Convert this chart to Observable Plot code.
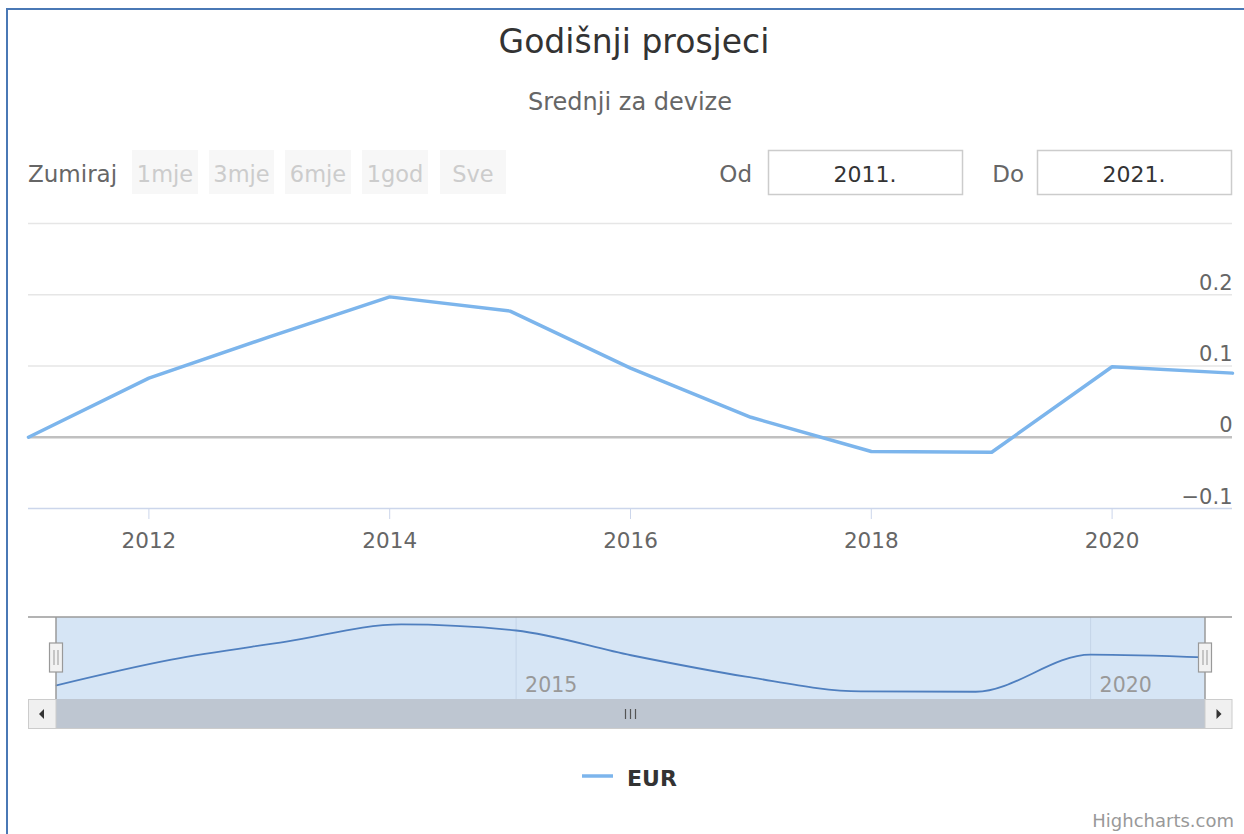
<!DOCTYPE html>
<html>
<head>
<meta charset="utf-8">
<script src="https://cdn.jsdelivr.net/npm/d3@7"></script>
<script src="https://cdn.jsdelivr.net/npm/@observablehq/plot@0.6"></script>
<style>
  body { margin: 0; background: #fff; }
  #wrap { position: relative; width: 1244px; height: 834px; overflow: hidden; background: #fff; font-family: "DejaVu Sans", sans-serif; }
  #frame { position: absolute; left: 6px; top: 8px; width: 1400px; height: 900px; border-left: 2px solid #4a78b5; border-top: 2px solid #4a78b5; }
  #main { position: absolute; left: 0; top: 200px; }
  #nav { position: absolute; left: 0; top: 600px; }
  #chrome { position: absolute; left: 0; top: 0; pointer-events: none; }
</style>
</head>
<body>
<div id="wrap">
  <div id="frame"></div>
  <div id="main"></div>
  <div id="nav"></div>
  <svg id="chrome" width="1244" height="834"></svg>
</div>
<script>
// ---- data ----
const years = [2011, 2012, 2013, 2014, 2015, 2016, 2017, 2018, 2019, 2020, 2021];
const eur = [0.000, 0.083, 0.141, 0.197, 0.177, 0.097, 0.028, -0.020, -0.021, 0.099, 0.090];
const xTicks = [2012, 2014, 2016, 2018, 2020];
const yLabels = [-0.1, 0, 0.1, 0.2];
const yGrid = [0.1, 0.2, 0.3];
const navTicks = [2015, 2020];
const rangeButtons = ["1mje", "3mje", "6mje", "1god", "Sve"];
const seriesName = "EUR";
const titleText = "Godišnji prosjeci";
const subtitleText = "Srednji za devize";
const zoomLabel = "Zumiraj";
const fromLabel = "Od", toLabel = "Do";
const fromValue = "2011.", toValue = "2021.";
const creditsText = "Highcharts.com";

const data = years.map((year, i) => ({year, value: eur[i]}));
const yFmt = d3.format("");
const FONT = "DejaVu Sans";

// ---- main chart ----
const main = Plot.plot({
  width: 1244, height: 360,
  marginLeft: 28, marginRight: 12, marginTop: 23, marginBottom: 52,
  x: {domain: [years[0], years[years.length - 1]], axis: null},
  y: {domain: [-0.1, 0.3], axis: null},
  style: {fontFamily: FONT, fontSize: "21px", background: "transparent", overflow: "visible"},
  marks: [
    Plot.ruleY(yGrid, {stroke: "#e6e6e6", strokeWidth: 1.5}),
    Plot.ruleY([0], {stroke: "#c0c0c0", strokeWidth: 2.5}),
    Plot.ruleY([-0.1], {stroke: "#ccd6eb", strokeWidth: 1.5}),
    Plot.axisX(xTicks, {tickSize: 11, tickPadding: 13, stroke: "#ccd6eb", fill: "#666", tickFormat: d => String(d), fontSize: 21.5, label: null}),
    Plot.text(yLabels, {frameAnchor: "right", y: d => d, text: d => yFmt(d), textAnchor: "end", lineAnchor: "bottom", dy: -5, fill: "#666", fontSize: 21}),
    Plot.line(data, {x: "year", y: "value", stroke: "#7cb5ec", strokeWidth: 3.5, strokeLinejoin: "round"})
  ]
});
document.getElementById("main").appendChild(main);

// ---- navigator ----
const nav = Plot.plot({
  width: 1244, height: 140,
  marginLeft: 56, marginRight: 39, marginTop: 17, marginBottom: 41,
  x: {domain: [years[0], years[years.length - 1]], axis: null},
  y: {domain: [-0.046, 0.219], axis: null},
  style: {fontFamily: FONT, fontSize: "20px", background: "transparent", overflow: "visible"},
  marks: [
    Plot.rect([{x1: years[0], x2: years[years.length - 1]}], {x1: "x1", x2: "x2", fill: "#d6e5f5"}),
    Plot.ruleX(navTicks, {stroke: "#c5d4e8", strokeWidth: 1}),
    Plot.text(navTicks, {x: d => d, text: d => String(d), frameAnchor: "bottom", textAnchor: "start", lineAnchor: "bottom", dx: 9, dy: -8, fill: "#999", fontSize: 20.5}),
    Plot.line(data, {x: "year", y: "value", curve: "monotone-x", stroke: "#4f7fbf", strokeWidth: 1.8})
  ]
});
document.getElementById("nav").appendChild(nav);

// ---- chrome (title, range selector, navigator handles, scrollbar, legend, credits) ----
const svg = d3.select("#chrome");
const navX = nav.scale("x");
const navTop = 600 + 17, navBottom = 600 + 140 - 41;
const hx0 = navX.apply(years[0]), hx1 = navX.apply(years[years.length - 1]);

svg.append("text").attr("x", 634).attr("y", 53).attr("text-anchor", "middle")
  .attr("font-family", FONT).attr("font-size", 33).attr("fill", "#333").text(titleText);
svg.append("text").attr("x", 630).attr("y", 110).attr("text-anchor", "middle")
  .attr("font-family", FONT).attr("font-size", 24).attr("fill", "#666").text(subtitleText);

// range selector
svg.append("text").attr("x", 28).attr("y", 182).attr("font-family", FONT).attr("font-size", 23).attr("fill", "#666").text(zoomLabel);
const btnX = [132, 209, 285, 362, 440];
const btnW = [66, 65, 66, 66, 66];
rangeButtons.forEach((b, i) => {
  svg.append("rect").attr("x", btnX[i]).attr("y", 150).attr("width", btnW[i]).attr("height", 44).attr("fill", "#f7f7f7");
  svg.append("text").attr("x", btnX[i] + btnW[i] / 2).attr("y", 182).attr("text-anchor", "middle")
    .attr("font-family", FONT).attr("font-size", 22.5).attr("fill", "#cccccc").text(b);
});
svg.append("text").attr("x", 752).attr("y", 182).attr("text-anchor", "end").attr("font-family", FONT).attr("font-size", 23).attr("fill", "#666").text(fromLabel);
svg.append("rect").attr("x", 768.5).attr("y", 150.5).attr("width", 194).attr("height", 44).attr("fill", "#fff").attr("stroke", "#cccccc").attr("stroke-width", 1.5);
svg.append("text").attr("x", 865).attr("y", 182).attr("text-anchor", "middle").attr("font-family", FONT).attr("font-size", 22).attr("fill", "#333").text(fromValue);
svg.append("text").attr("x", 1024).attr("y", 182).attr("text-anchor", "end").attr("font-family", FONT).attr("font-size", 23).attr("fill", "#666").text(toLabel);
svg.append("rect").attr("x", 1037.5).attr("y", 150.5).attr("width", 194).attr("height", 44).attr("fill", "#fff").attr("stroke", "#cccccc").attr("stroke-width", 1.5);
svg.append("text").attr("x", 1134).attr("y", 182).attr("text-anchor", "middle").attr("font-family", FONT).attr("font-size", 22).attr("fill", "#333").text(toValue);

// navigator outline
svg.append("path").attr("d", `M28,${navTop}H1232M${hx0},${navTop}V${navBottom}M${hx1},${navTop}V${navBottom}`)
  .attr("fill", "none").attr("stroke", "#9a9a9a").attr("stroke-width", 1.5);

// scrollbar
const sbTop = navBottom, sbH = 30;
svg.append("rect").attr("x", hx0).attr("y", sbTop).attr("width", hx1 - hx0).attr("height", sbH).attr("fill", "#bec6d1");
svg.append("rect").attr("x", 28.5).attr("y", sbTop + 0.5).attr("width", hx0 - 28.5).attr("height", sbH - 1).attr("fill", "#f0f0f0").attr("stroke", "#cccccc");
svg.append("rect").attr("x", hx1).attr("y", sbTop + 0.5).attr("width", 1232 - hx1).attr("height", sbH - 1).attr("fill", "#f0f0f0").attr("stroke", "#cccccc");
svg.append("line").attr("x1", 28).attr("x2", 1232).attr("y1", sbTop + sbH - 0.5).attr("y2", sbTop + sbH - 0.5).attr("stroke", "#cccccc");
const cy = sbTop + sbH / 2;
const lx = (28 + hx0) / 2, rx = (hx1 + 1232) / 2;
svg.append("path").attr("d", `M${lx + 2},${cy - 5}L${lx - 3},${cy}L${lx + 2},${cy + 5}Z`).attr("fill", "#333");
svg.append("path").attr("d", `M${rx - 2},${cy - 5}L${rx + 3},${cy}L${rx - 2},${cy + 5}Z`).attr("fill", "#333");
const gx = (hx0 + hx1) / 2;
[-5, 0, 5].forEach(o => {
  svg.append("line").attr("x1", gx + o).attr("x2", gx + o).attr("y1", cy - 5).attr("y2", cy + 5).attr("stroke", "#555").attr("stroke-width", 1.2);
});

// handles
[hx0, hx1].forEach(hx => {
  svg.append("rect").attr("x", hx - 6.5).attr("y", 643).attr("width", 13).attr("height", 29).attr("fill", "#f2f2f2").attr("stroke", "#999").attr("stroke-width", 1.2);
  [-2, 2].forEach(o => svg.append("line").attr("x1", hx + o).attr("x2", hx + o).attr("y1", 650).attr("y2", 665).attr("stroke", "#999").attr("stroke-width", 1));
});

// legend
svg.append("line").attr("x1", 582).attr("x2", 613).attr("y1", 776).attr("y2", 776).attr("stroke", "#7cb5ec").attr("stroke-width", 3.5);
svg.append("text").attr("x", 627).attr("y", 786).attr("font-family", FONT).attr("font-weight", "bold").attr("font-size", 22).attr("fill", "#333").text(seriesName);

// credits
svg.append("text").attr("x", 1234).attr("y", 827).attr("text-anchor", "end").attr("font-family", FONT).attr("font-size", 18).attr("fill", "#999").text(creditsText);
</script>
</body>
</html>
